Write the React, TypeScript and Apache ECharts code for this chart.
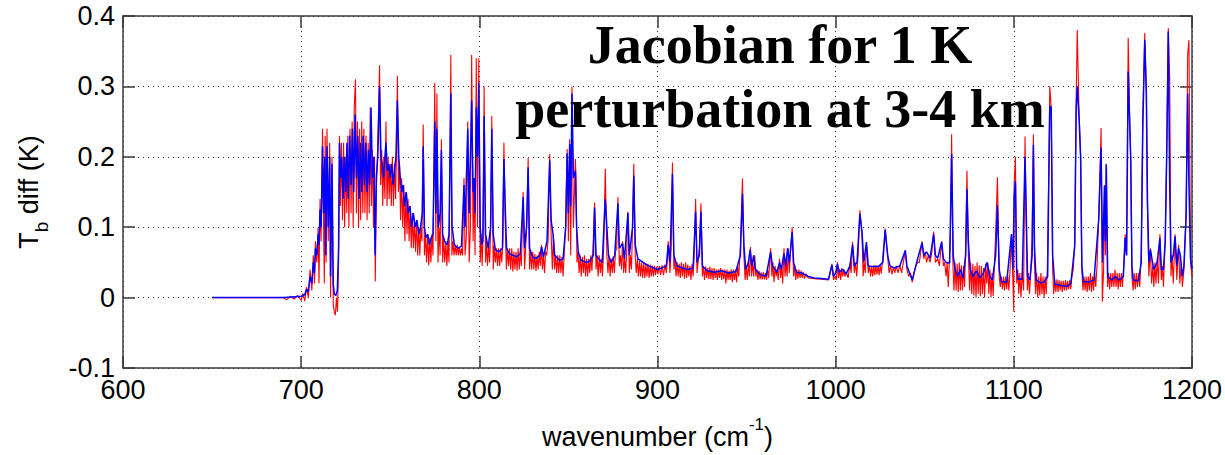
import React, { useEffect, useRef } from "react";
import * as echarts from "echarts";

const xTicks = [600, 700, 800, 900, 1000, 1100, 1200];
const yTicks = [-0.1, 0, 0.1, 0.2, 0.3, 0.4];
const titleLines = ["Jacobian for 1 K", "perturbation at 3-4 km"];

// blue trace (wavenumber, Tb diff)
const blueSeries: [number, number][] = [
  [650,0],[690,0],[695,0.001],[700,0.002],[702,0.004],[703,0.012],[704,0.008],[705,0.03],[706,0.02],[706.8,0.05],[707.5,0.035],[708,0.07],[708.8,0.06],[709.5,0.09],[710,0.075],[710.6,0.125],[711.2,0.1],[712,0.215],[712.6,0.12],[713.3,0.2],[713.8,0.06],[714.5,0.215],[715.2,0.1],[716,0.2],[716.5,0.03],[717.3,0.19],[718,0.02],[718.6,0.005],[719.5,0.003],[720.3,0.01],[721,0.07],[721.5,0.22],[722.2,0.17],[722.8,0.2],[723.5,0.14],[724.2,0.2],[725,0.15],[725.7,0.22],[726.4,0.14],[727.2,0.23],[728,0.16],[728.8,0.24],[729.5,0.15],[730.3,0.26],[731,0.17],[731.8,0.23],[732.5,0.14],[733.3,0.22],[734,0.15],[734.8,0.23],[735.5,0.16],[736.3,0.22],[737,0.15],[737.8,0.21],[738.5,0.16],[739.2,0.27],[740,0.17],[740.8,0.2],[741.5,0.06],[742.2,0.17],[743,0.2],[744,0.3],[744.8,0.2],[745.5,0.19],[746.3,0.17],[747,0.2],[747.6,0.22],[748.4,0.18],[749.2,0.19],[750,0.17],[750.8,0.19],[751.6,0.16],[752.4,0.18],[753.2,0.2],[754,0.28],[754.8,0.2],[755.6,0.17],[756.4,0.15],[757.2,0.16],[758,0.13],[759,0.15],[760,0.12],[761,0.13],[762,0.1],[763,0.12],[764,0.1],[765,0.11],[766,0.09],[767,0.1],[768,0.12],[768.5,0.215],[769.2,0.1],[770,0.085],[771,0.09],[772,0.075],[773,0.085],[774,0.09],[775,0.25],[775.6,0.12],[776.2,0.24],[777,0.1],[778,0.12],[778.7,0.21],[779.4,0.09],[780.5,0.08],[782,0.075],[783,0.09],[784,0.29],[784.7,0.1],[786,0.075],[788,0.07],[790,0.073],[791.4,0.16],[792,0.1],[793.5,0.24],[794.3,0.12],[795.7,0.28],[796.5,0.15],[797,0.17],[797.6,0.12],[798.3,0.27],[799,0.2],[799.7,0.305],[800.5,0.1],[801.3,0.075],[802,0.08],[802.7,0.258],[803.5,0.09],[805,0.07],[806.3,0.1],[807,0.24],[807.8,0.09],[809,0.068],[811,0.065],[813,0.07],[813.8,0.197],[814.6,0.124],[815.3,0.07],[817,0.062],[819,0.06],[821,0.058],[823,0.062],[824.6,0.143],[825.4,0.07],[826.5,0.1],[827.4,0.185],[828.2,0.07],[830,0.057],[832,0.056],[834,0.06],[835,0.072],[836,0.058],[838,0.08],[839.5,0.195],[840.3,0.11],[841.4,0.09],[842.3,0.06],[845,0.053],[847,0.055],[848.5,0.1],[849.3,0.205],[850,0.12],[850.7,0.218],[851.3,0.13],[852,0.29],[852.8,0.17],[853.9,0.18],[854.6,0.1],[855.5,0.065],[857,0.053],[860,0.05],[862,0.052],[864,0.06],[864.7,0.128],[865.5,0.06],[867,0.055],[869,0.05],[870.7,0.14],[871.6,0.1],[872.5,0.06],[874,0.05],[876,0.06],[877.8,0.134],[878.6,0.07],[880.4,0.077],[881.5,0.055],[883.4,0.12],[884.2,0.06],[886,0.1],[886.7,0.173],[887.5,0.075],[889,0.055],[892,0.05],[895,0.045],[898,0.042],[900,0.04],[903,0.043],[905,0.045],[906,0.075],[907,0.05],[908.4,0.176],[909.2,0.06],[911,0.045],[914,0.042],[917,0.04],[920,0.042],[921.4,0.122],[922.2,0.05],[923.5,0.06],[924.4,0.122],[925.2,0.045],[928,0.038],[932,0.036],[936,0.038],[940,0.035],[944,0.037],[946.5,0.06],[947.7,0.147],[948.5,0.075],[949.5,0.04],[951,0.05],[952,0.068],[953,0.045],[954,0.06],[955,0.04],[958,0.032],[961,0.031],[963.5,0.065],[964.5,0.045],[966,0.04],[967,0.036],[968.5,0.05],[969.5,0.04],[971,0.063],[972,0.045],[973,0.07],[974,0.05],[975.6,0.093],[976.4,0.05],[978,0.036],[981,0.035],[984.6,0.03],[988,0.028],[992,0.027],[996,0.026],[997.9,0.046],[998.8,0.03],[1000,0.035],[1001,0.048],[1002,0.036],[1004,0.04],[1006,0.034],[1008,0.045],[1009.5,0.075],[1010.5,0.045],[1012,0.05],[1013.6,0.119],[1014.8,0.093],[1015.8,0.05],[1017.3,0.079],[1018.3,0.045],[1021,0.044],[1024,0.044],[1026.5,0.05],[1027.8,0.096],[1029.3,0.058],[1030.5,0.045],[1033,0.042],[1036,0.045],[1039.1,0.067],[1040,0.045],[1041.5,0.035],[1043,0.025],[1044.5,0.04],[1046,0.055],[1048.5,0.078],[1049.5,0.06],[1051,0.065],[1053,0.056],[1055,0.09],[1056,0.06],[1057.3,0.056],[1059.5,0.079],[1060.5,0.055],[1062,0.05],[1064,0.049],[1065.1,0.204],[1066,0.06],[1067,0.04],[1068.5,0.03],[1070,0.04],[1071.5,0.028],[1073,0.06],[1073.7,0.154],[1074.5,0.079],[1075.5,0.04],[1077,0.03],[1079,0.038],[1081,0.028],[1083,0.035],[1085,0.05],[1086.5,0.03],[1088,0.025],[1089.8,0.06],[1090.8,0.131],[1091.8,0.04],[1093,0.023],[1096,0.022],[1098.7,0.09],[1099.5,0.04],[1100.2,0.145],[1100.9,0.165],[1101.6,0.04],[1102.5,0.026],[1104.7,0.026],[1106.3,0.2],[1106.9,0.13],[1107.7,0.03],[1109,0.025],[1110.3,0.06],[1111,0.217],[1111.6,0.074],[1112.5,0.025],[1115,0.021],[1117,0.022],[1119,0.03],[1119.6,0.16],[1120.2,0.272],[1121,0.27],[1121.8,0.06],[1123,0.019],[1127,0.017],[1130,0.016],[1132,0.02],[1134.2,0.073],[1135,0.267],[1135.6,0.3],[1136.6,0.257],[1137.5,0.2],[1138.2,0.045],[1139,0.023],[1142,0.022],[1145,0.025],[1147.7,0.112],[1149,0.213],[1149.8,0.05],[1150.9,0.158],[1151.4,0.08],[1151.9,0.189],[1152.7,0.03],[1155,0.025],[1157,0.03],[1159,0.025],[1161.5,0.03],[1162.5,0.085],[1163.3,0.06],[1164.2,0.321],[1165,0.25],[1165.6,0.2],[1166.3,0.045],[1167,0.025],[1170,0.024],[1171.5,0.05],[1172.4,0.243],[1173.5,0.366],[1174.4,0.29],[1175,0.14],[1175.8,0.05],[1176.7,0.068],[1178.5,0.04],[1180.5,0.05],[1182,0.085],[1182.8,0.04],[1184,0.04],[1185,0.08],[1185.9,0.215],[1186.7,0.378],[1187.5,0.16],[1188.2,0.05],[1189.5,0.06],[1190.5,0.087],[1191.5,0.045],[1192.5,0.07],[1193.5,0.06],[1194.5,0.03],[1195.5,0.045],[1196.7,0.115],[1197.6,0.29],[1198.3,0.16],[1199.2,0.055],[1200,0.04]
];

// red trace (wavenumber, Tb diff)
const redSeries: [number, number][] = [
  [650,0],[690,0],[692,-0.003],[694,0.002],[696,-0.002],[698,0.003],[700,-0.004],[701,0.006],[702,-0.005],[703,0.015],[704,0],[705,0.04],[706,0.01],[706.8,0.06],[707.5,0.02],[708,0.08],[708.8,0.05],[709.5,0.1],[710,0.02],[710.6,0.14],[711.2,0.08],[712,0.24],[712.6,0.1],[713,0.02],[713.5,0.23],[714,0.05],[714.5,0.24],[715.2,0.08],[716,0.22],[716.5,0],[717.3,0.2],[718,-0.01],[718.6,-0.02],[719.2,-0.025],[719.8,0],[720.4,-0.02],[721,0.05],[721.5,0.23],[722,0.13],[722.6,0.22],[723.2,0.11],[723.8,0.22],[724.4,0.1],[725,0.2],[725.6,0.12],[726.2,0.23],[726.8,0.1],[727.4,0.24],[728,0.12],[728.6,0.25],[729.2,0.1],[729.8,0.27],[730.5,0.31],[731,0.12],[731.6,0.25],[732.2,0.1],[732.8,0.24],[733.4,0.11],[734,0.25],[734.6,0.12],[735.2,0.24],[735.8,0.12],[736.4,0.23],[737,0.11],[737.6,0.22],[738.2,0.12],[738.8,0.27],[739.4,0.13],[740,0.21],[740.6,0.1],[741.2,0.2],[741.6,0.023],[742.2,0.15],[743,0.22],[744,0.33],[744.6,0.16],[745.2,0.21],[745.8,0.13],[746.4,0.2],[747,0.14],[747.6,0.25],[748.2,0.13],[748.8,0.2],[749.4,0.14],[750,0.19],[750.6,0.13],[751.2,0.2],[751.8,0.13],[752.4,0.19],[753,0.14],[753.6,0.22],[754,0.315],[754.6,0.15],[755.2,0.19],[755.8,0.11],[756.4,0.17],[757,0.1],[757.6,0.16],[758.2,0.08],[758.8,0.15],[759.4,0.09],[760,0.14],[760.6,0.08],[761.2,0.13],[761.8,0.07],[762.4,0.12],[763,0.07],[763.6,0.11],[764.2,0.065],[764.8,0.11],[765.4,0.06],[766,0.1],[766.6,0.06],[767.2,0.1],[767.8,0.08],[768.5,0.246],[769.2,0.06],[769.8,0.09],[770.4,0.05],[771,0.09],[771.6,0.046],[772.2,0.085],[772.8,0.05],[773.4,0.09],[774,0.06],[775,0.305],[775.6,0.08],[776.2,0.29],[776.8,0.05],[777.4,0.1],[778,0.06],[778.7,0.225],[779.4,0.05],[780,0.085],[780.6,0.05],[781.2,0.08],[781.8,0.045],[782.4,0.08],[783,0.05],[784,0.345],[784.6,0.06],[785.2,0.08],[785.8,0.06],[786.4,0.075],[787,0.06],[787.6,0.075],[788.2,0.06],[788.8,0.072],[789.4,0.06],[790,0.07],[790.6,0.06],[791.4,0.17],[792,0.06],[792.8,0.09],[793.5,0.25],[794.3,0.05],[795,0.1],[795.7,0.345],[796.5,0.08],[797,0.17],[797.6,0.06],[798.3,0.34],[799,0.1],[799.7,0.34],[800.5,0.05],[801,0.09],[801.6,0.045],[802.1,0.09],[802.7,0.3],[803.5,0.05],[804,0.08],[804.6,0.045],[805.2,0.075],[805.8,0.05],[806.4,0.1],[807,0.258],[807.8,0.04],[808.4,0.075],[809,0.05],[809.6,0.07],[810.2,0.045],[810.8,0.07],[811.4,0.045],[812,0.07],[812.6,0.05],[813.2,0.08],[813.8,0.22],[814.6,0.1],[815.2,0.04],[815.8,0.07],[816.4,0.045],[817,0.07],[817.6,0.04],[818.2,0.07],[818.8,0.037],[819.4,0.065],[820,0.04],[820.6,0.065],[821.2,0.038],[821.8,0.07],[822.4,0.04],[823,0.065],[823.6,0.045],[824.6,0.15],[825.4,0.04],[826,0.07],[826.7,0.11],[827.4,0.198],[828.2,0.04],[828.8,0.065],[829.4,0.04],[830,0.065],[830.6,0.04],[831.2,0.062],[831.8,0.038],[832.4,0.06],[833,0.04],[833.6,0.065],[834.2,0.045],[834.8,0.075],[835.4,0.04],[836,0.062],[836.6,0.035],[837.2,0.065],[837.8,0.06],[838.6,0.08],[839.5,0.204],[840.3,0.09],[841,0.04],[841.6,0.09],[842.2,0.04],[842.8,0.06],[843.4,0.035],[844,0.06],[844.6,0.035],[845.2,0.06],[845.8,0.035],[846.4,0.058],[847,0.03],[847.6,0.06],[848.4,0.1],[849.3,0.211],[850,0.08],[850.7,0.225],[851.3,0.06],[852,0.3],[852.8,0.1],[853.9,0.197],[854.3,0.17],[854.8,0.05],[855.4,0.065],[856,0.035],[856.6,0.06],[857.2,0.03],[857.8,0.058],[858.4,0.035],[859,0.06],[859.6,0.03],[860.2,0.055],[860.8,0.03],[861.4,0.055],[862,0.035],[862.6,0.06],[863.2,0.038],[863.8,0.07],[864.7,0.135],[865.5,0.04],[866.1,0.06],[866.7,0.03],[867.3,0.06],[867.9,0.035],[868.5,0.055],[869.1,0.03],[869.8,0.07],[870.7,0.183],[871.6,0.06],[872.2,0.035],[872.8,0.06],[873.4,0.03],[874,0.055],[874.6,0.035],[875.2,0.058],[875.8,0.035],[876.4,0.065],[877.1,0.07],[877.8,0.143],[878.6,0.045],[879.2,0.06],[879.8,0.04],[880.4,0.08],[881,0.035],[881.6,0.055],[882.2,0.035],[882.8,0.07],[883.4,0.122],[884.2,0.035],[884.8,0.06],[885.4,0.04],[886,0.1],[886.7,0.19],[887.5,0.06],[888.1,0.035],[888.7,0.055],[889.3,0.03],[889.9,0.052],[890.5,0.03],[891.1,0.05],[891.7,0.028],[892.3,0.05],[892.9,0.028],[893.5,0.048],[894.1,0.03],[894.7,0.048],[895.3,0.028],[895.9,0.047],[896.5,0.03],[897.1,0.045],[897.7,0.03],[898.3,0.045],[898.9,0.032],[899.5,0.044],[900.2,0.033],[901,0.045],[901.8,0.032],[902.6,0.046],[903.4,0.032],[904.2,0.047],[905,0.035],[906,0.08],[907,0.035],[907.7,0.07],[908.4,0.192],[909.2,0.04],[909.8,0.055],[910.4,0.03],[911,0.05],[911.6,0.03],[912.2,0.048],[912.8,0.028],[913.4,0.05],[914,0.03],[914.6,0.048],[915.2,0.027],[915.8,0.05],[916.4,0.028],[917,0.047],[917.6,0.03],[918.2,0.045],[918.8,0.025],[919.4,0.048],[920,0.03],[920.6,0.06],[921.4,0.14],[922.2,0.035],[922.8,0.05],[923.5,0.07],[924.4,0.134],[925.2,0.03],[925.8,0.045],[926.4,0.025],[927,0.044],[927.6,0.028],[928.2,0.042],[928.8,0.026],[929.4,0.044],[930,0.026],[930.6,0.042],[931.2,0.025],[931.8,0.042],[932.4,0.028],[933,0.04],[933.6,0.025],[934.2,0.04],[934.8,0.028],[935.4,0.042],[936,0.025],[936.6,0.04],[937.2,0.026],[937.8,0.04],[938.4,0.02],[939,0.04],[939.6,0.025],[940.2,0.038],[940.8,0.025],[941.4,0.04],[942,0.022],[942.6,0.04],[943.2,0.025],[943.8,0.04],[944.4,0.022],[945,0.045],[945.6,0.03],[946.5,0.07],[947.7,0.169],[948.5,0.06],[949.2,0.025],[949.8,0.045],[950.4,0.025],[951,0.05],[951.6,0.03],[952.2,0.072],[952.8,0.03],[953.4,0.05],[954,0.03],[954.6,0.06],[955.2,0.03],[955.8,0.04],[956.4,0.025],[957,0.038],[957.6,0.026],[958.2,0.036],[958.8,0.026],[959.4,0.036],[960,0.026],[960.6,0.035],[961.2,0.025],[961.8,0.04],[962.4,0.028],[963,0.05],[963.5,0.07],[964.2,0.03],[964.8,0.05],[965.4,0.022],[966,0.045],[966.6,0.03],[967.2,0.04],[967.8,0.025],[968.5,0.055],[969.1,0.028],[969.7,0.045],[970.3,0.02],[971,0.07],[971.6,0.03],[972.2,0.05],[972.8,0.03],[973.4,0.07],[974,0.035],[974.8,0.07],[975.6,0.1],[976.4,0.03],[977,0.045],[977.6,0.025],[978.2,0.04],[978.8,0.027],[979.4,0.04],[980,0.028],[980.6,0.038],[981.2,0.028],[981.8,0.036],[982.5,0.027],[983.3,0.034],[984.6,0.028],[988,0.027],[992,0.026],[996,0.025],[997.9,0.048],[998.8,0.025],[999.6,0.03],[1000.4,0.025],[1001,0.05],[1001.6,0.028],[1002.2,0.04],[1002.8,0.025],[1003.4,0.042],[1004,0.03],[1004.6,0.04],[1005.2,0.03],[1006,0.036],[1007,0.028],[1008,0.048],[1008.7,0.035],[1009.5,0.079],[1010.5,0.035],[1011.2,0.05],[1011.8,0.03],[1012.6,0.06],[1013.6,0.124],[1014.8,0.09],[1015.4,0.03],[1016,0.05],[1016.6,0.035],[1017.3,0.075],[1018.3,0.035],[1019,0.045],[1019.6,0.03],[1020.2,0.045],[1020.8,0.03],[1021.4,0.046],[1022,0.032],[1022.6,0.046],[1023.2,0.033],[1023.8,0.045],[1024.4,0.032],[1025,0.046],[1025.6,0.034],[1026.4,0.055],[1027.8,0.098],[1029.3,0.055],[1030,0.035],[1030.8,0.045],[1031.6,0.033],[1032.4,0.043],[1033.2,0.035],[1034,0.045],[1035,0.035],[1036,0.046],[1037,0.035],[1038,0.05],[1039.1,0.067],[1040,0.04],[1041,0.03],[1042,0.035],[1043,0.022],[1044,0.035],[1045,0.045],[1046,0.05],[1047,0.05],[1048.5,0.08],[1049.5,0.055],[1050.3,0.065],[1051,0.05],[1052,0.06],[1053,0.05],[1054,0.065],[1055,0.094],[1056,0.05],[1057.3,0.055],[1058.2,0.045],[1059.5,0.08],[1060.5,0.045],[1061.2,0.05],[1062,0.03],[1062.6,0.05],[1063.2,0.015],[1063.8,0.05],[1064.5,0.1],[1065.1,0.232],[1065.8,0.05],[1066.4,0.01],[1067,0.05],[1067.6,0.01],[1068.2,0.048],[1068.8,0.008],[1069.4,0.05],[1070,0.01],[1070.6,0.046],[1071.2,0.01],[1071.8,0.045],[1072.4,0.015],[1073,0.08],[1073.7,0.18],[1074.5,0.06],[1075.2,0.01],[1075.8,0.05],[1076.4,0.005],[1077,0.048],[1077.6,0.003],[1078.2,0.045],[1078.8,0],[1079.4,0.05],[1080,0.005],[1080.6,0.046],[1081.2,0.002],[1081.8,0.045],[1082.4,0.005],[1083,0.042],[1083.6,0],[1084.2,0.048],[1084.8,0.02],[1085.4,0.05],[1086,0.005],[1086.6,0.04],[1087.2,0],[1087.8,0.035],[1088.4,0.002],[1089,0.04],[1089.8,0.09],[1090.8,0.171],[1091.8,0.03],[1092.4,0.015],[1093,0.03],[1093.6,0.012],[1094.2,0.03],[1094.8,0.01],[1095.4,0.03],[1096,0.012],[1096.6,0.032],[1097.2,0.01],[1097.8,0.035],[1098.7,0.09],[1099.4,0.03],[1100,-0.02],[1100.2,0.161],[1100.9,0.2],[1101.6,0.02],[1102.2,0.04],[1102.8,0.005],[1103.4,0.035],[1104,0],[1104.7,0.035],[1105.5,0.01],[1106.3,0.229],[1106.9,0.11],[1107.6,0.01],[1108.2,0.035],[1108.8,0.005],[1109.4,0.03],[1110.2,0.08],[1111,0.232],[1111.6,0.05],[1112.2,0.005],[1112.8,0.035],[1113.4,0],[1114,0.03],[1114.6,0.003],[1115.2,0.035],[1115.8,0.005],[1116.4,0.03],[1117,0],[1117.6,0.03],[1118.2,0.005],[1118.8,0.04],[1119.6,0.17],[1120.2,0.3],[1121,0.27],[1121.8,0.04],[1122.4,0.005],[1123,0.025],[1123.6,0.008],[1124.2,0.026],[1124.8,0.008],[1125.4,0.025],[1126,0.01],[1126.6,0.024],[1127.2,0.008],[1127.8,0.024],[1128.4,0.01],[1129,0.025],[1129.6,0.01],[1130.2,0.024],[1130.8,0.012],[1131.4,0.025],[1132,0.012],[1132.6,0.03],[1133.4,0.04],[1134.2,0.08],[1135,0.281],[1135.6,0.38],[1136.6,0.265],[1137.5,0.2],[1138.2,0.04],[1138.8,0.01],[1139.4,0.03],[1140,0.01],[1140.6,0.03],[1141.2,0.008],[1141.8,0.03],[1142.4,0.01],[1143,0.035],[1143.6,0.008],[1144.2,0.03],[1144.8,0.01],[1145.4,0.035],[1146,0.015],[1146.8,0.05],[1147.7,0.12],[1149,0.241],[1149.7,-0.006],[1150.4,0.04],[1150.9,0.16],[1151.4,0.06],[1151.9,0.19],[1152.6,0.015],[1153.2,0.035],[1153.8,0.012],[1154.4,0.035],[1155,0.015],[1155.6,0.035],[1156.2,0.015],[1156.8,0.04],[1157.4,0.015],[1158,0.035],[1158.6,0.012],[1159.2,0.035],[1159.8,0.015],[1160.4,0.035],[1161,0.015],[1161.8,0.05],[1162.5,0.09],[1163.3,0.06],[1164.2,0.369],[1165,0.26],[1165.6,0.2],[1166.3,0.03],[1167,0.01],[1167.6,0.035],[1168.2,0.012],[1168.8,0.035],[1169.4,0.015],[1170,0.035],[1170.7,0.015],[1171.5,0.06],[1172.4,0.257],[1173.5,0.376],[1174.4,0.29],[1175,0.13],[1175.8,0.03],[1176.7,0.07],[1177.3,0.02],[1178,0.045],[1178.6,0.015],[1179.2,0.05],[1179.8,0.02],[1180.5,0.055],[1181.2,0.02],[1182,0.09],[1182.8,0.025],[1183.4,0.045],[1184,0.015],[1185,0.085],[1185.9,0.22],[1186.7,0.383],[1187.5,0.31],[1188.2,0.03],[1188.8,0.06],[1189.5,0.02],[1190.5,0.09],[1191.5,0.025],[1192.5,0.075],[1193.2,0.02],[1194,0.05],[1194.6,0.015],[1195.5,0.04],[1196.7,0.12],[1197.6,0.345],[1198.3,0.366],[1199.2,0.05],[1200,0.03]
];

const FONT = "'Liberation Sans', Arial, Helvetica, sans-serif";
const AXIS_COLOR = "#3a3a3a";

export default function App() {
  const ref = useRef<HTMLDivElement>(null);

  useEffect(() => {
    if (!ref.current) return;
    const chart = echarts.init(ref.current, undefined, { renderer: "svg" });
    const grid = { left: 123, right: 30, top: 16, bottom: 85 };
    const boxAxisLine = { show: true, onZero: false, lineStyle: { color: AXIS_COLOR, width: 1.5 } };
    const tickStyle = { show: true, inside: true, length: 12, lineStyle: { color: AXIS_COLOR, width: 1.5 } };
    const gridLine = { show: true, lineStyle: { color: "#333", width: 1, type: [1, 4] as any } };

    chart.setOption({
      animation: false,
      backgroundColor: "#ffffff",
      grid,
      xAxis: [
        {
          type: "value",
          min: xTicks[0],
          max: xTicks[xTicks.length - 1],
          interval: 100,
          position: "bottom",
          axisLine: boxAxisLine,
          axisTick: tickStyle,
          splitLine: gridLine,
          axisLabel: {
            color: "#000",
            fontFamily: FONT,
            fontSize: 27,
            margin: 8,
            formatter: (v: number) => String(v),
          },
          name: "{a|wavenumber (cm}{s|-1}{a|)}",
          nameLocation: "middle",
          nameGap: 48,
          nameTextStyle: {
            rich: {
              a: { fontFamily: FONT, fontSize: 27, color: "#000", lineHeight: 34, verticalAlign: "bottom" },
              s: { fontFamily: FONT, fontSize: 17, color: "#000", lineHeight: 17, verticalAlign: "top" },
            },
          },
        },
        {
          type: "value",
          min: xTicks[0],
          max: xTicks[xTicks.length - 1],
          interval: 100,
          position: "top",
          axisLine: boxAxisLine,
          axisTick: tickStyle,
          splitLine: { show: false },
          axisLabel: { show: false },
        },
      ],
      yAxis: [
        {
          type: "value",
          min: yTicks[0],
          max: yTicks[yTicks.length - 1],
          interval: 0.1,
          position: "left",
          axisLine: boxAxisLine,
          axisTick: tickStyle,
          splitLine: gridLine,
          axisLabel: {
            color: "#000",
            fontFamily: FONT,
            fontSize: 27,
            margin: 8,
            formatter: (v: number) => {
              const r = Math.round(v * 10) / 10;
              return r === 0 ? "0" : String(r);
            },
          },
          name: "{a|T}{b|b}{a| diff (K)}",
          nameLocation: "middle",
          nameGap: 72,
          nameRotate: 90,
          nameTextStyle: {
            rich: {
              a: { fontFamily: FONT, fontSize: 27, color: "#000", lineHeight: 36, verticalAlign: "top" },
              b: { fontFamily: FONT, fontSize: 19, color: "#000", lineHeight: 19, verticalAlign: "bottom" },
            },
          },
        },
        {
          type: "value",
          min: yTicks[0],
          max: yTicks[yTicks.length - 1],
          interval: 0.1,
          position: "right",
          axisLine: boxAxisLine,
          axisTick: tickStyle,
          splitLine: { show: false },
          axisLabel: { show: false },
        },
      ],
      series: [
        {
          type: "line",
          data: redSeries,
          xAxisIndex: 0,
          yAxisIndex: 0,
          showSymbol: false,
          symbol: "none",
          silent: true,
          lineStyle: { color: "#ff0000", width: 1.1 },
          emphasis: { disabled: true },
          z: 2,
        },
        {
          type: "line",
          data: blueSeries,
          xAxisIndex: 0,
          yAxisIndex: 0,
          showSymbol: false,
          symbol: "none",
          silent: true,
          lineStyle: { color: "#0000ff", width: 1.5 },
          emphasis: { disabled: true },
          z: 3,
        },
      ],
      graphic: [
        {
          type: "text",
          x: 780,
          y: 13,
          z: 10,
          style: {
            text: titleLines.join("\n"),
            align: "center",
            verticalAlign: "top",
            fontFamily: "'Liberation Serif', 'Times New Roman', serif",
            fontWeight: "bold",
            fontSize: 54,
            lineHeight: 64,
            fill: "#000",
          },
        },
      ],
    });
    return () => chart.dispose();
  }, []);

  return (
    <div
      ref={ref}
      style={{ position: "fixed", left: 0, top: 0, width: 1225, height: 455, background: "#fff" }}
    />
  );
}
